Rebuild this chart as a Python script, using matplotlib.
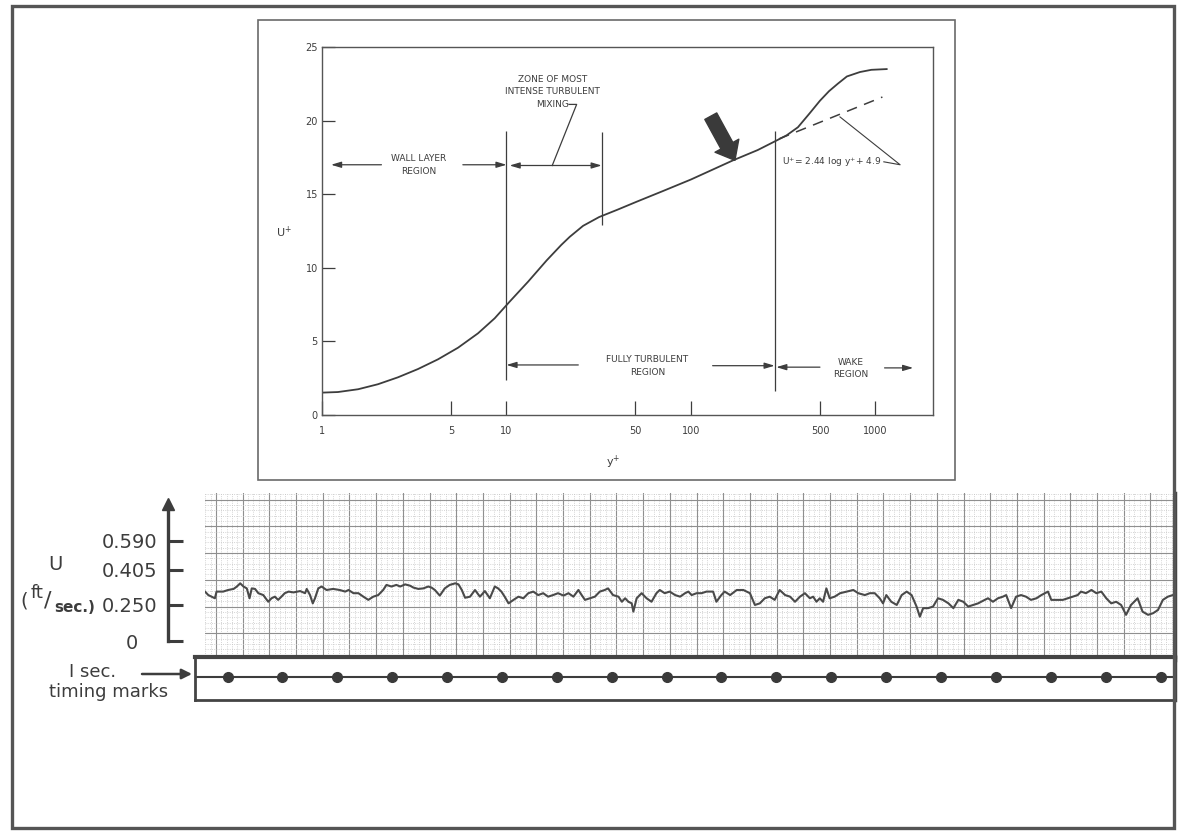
import numpy as np
import matplotlib
matplotlib.use('Agg')
import matplotlib.pyplot as plt
from matplotlib.patches import Rectangle, FancyArrowPatch
from matplotlib.ticker import NullLocator

# velocity profile (law of the wall)
yplus = [1, 1.22, 1.57, 2.01, 2.58, 3.31, 4.25, 5.46, 7.01, 8.63, 10.4, 13.1, 16.5,
         19.8, 22, 26, 31.8, 40, 51, 70, 100, 169, 230, 286, 330, 380, 440, 500,
         560, 624, 700, 824, 950, 1150]
uplus = [1.52, 1.56, 1.75, 2.09, 2.56, 3.12, 3.78, 4.57, 5.55, 6.57, 7.70, 9.06, 10.5,
         11.55, 12.1, 12.85, 13.45, 13.95, 14.5, 15.2, 16.0, 17.3, 18.0, 18.6, 19.0, 19.55,
         20.5, 21.35, 22.0, 22.5, 23.0, 23.3, 23.45, 23.5]
loglaw_y = [300, 1090]
loglaw_u = [18.76, 21.6]
boundary_y = [10, 32.8, 284]
boundary_lo = [2.4, 12.9, 1.6]
boundary_hi = [19.3, 19.2, 19.3]
x_ticks = [1, 5, 10, 50, 100, 500, 1000]
x_labels = ['1', '5', '10', '50', '100', '500', '1000']
y_ticks = [0, 5, 10, 15, 20, 25]

# strip chart trace: time in seconds, pen deflection in chart divisions
trace_t = [0, 0.06, 0.12, 0.18, 0.21, 0.33, 0.42, 0.52, 0.58, 0.64, 0.70, 0.76, 0.81, 0.85,
           0.91, 0.97, 1.06, 1.15, 1.21, 1.27, 1.33, 1.39, 1.45, 1.52, 1.61, 1.73, 1.82, 1.85,
           1.91, 1.96, 2.00, 2.06, 2.12, 2.21, 2.33, 2.45, 2.55, 2.61, 2.70, 2.79, 2.88, 2.97,
           3.06, 3.15, 3.24, 3.30, 3.39, 3.48, 3.55,
           3.64, 3.73, 3.79, 3.88, 3.97, 4.06, 4.12, 4.18, 4.27, 4.36, 4.45, 4.55, 4.61, 4.67,
           4.73, 4.82, 4.91, 5.00, 5.09, 5.18, 5.27, 5.33, 5.39, 5.45, 5.52, 5.61, 5.70, 5.79,
           5.88, 5.97, 6.06, 6.15, 6.24, 6.33, 6.42, 6.52, 6.61, 6.70, 6.79, 6.85, 6.91, 7.00,
           7.09,
           7.18, 7.27, 7.33, 7.42, 7.52, 7.58, 7.64, 7.70, 7.76, 7.79, 7.85, 7.94, 8.03, 8.12,
           8.21, 8.27, 8.36, 8.45, 8.55, 8.64, 8.73, 8.79, 8.85, 8.94, 9.03, 9.12, 9.24, 9.30,
           9.39, 9.45, 9.55, 9.67, 9.79, 9.91, 10.00, 10.09, 10.18, 10.27, 10.36, 10.45,
           10.55, 10.64,
           10.73, 10.82, 10.91, 11.00, 11.06, 11.12, 11.18, 11.24, 11.30, 11.36, 11.45, 11.55,
           11.67, 11.79, 11.88, 12.00, 12.09, 12.18, 12.27, 12.33, 12.39, 12.48, 12.58, 12.67,
           12.76, 12.85, 12.94, 13.00, 13.06, 13.15, 13.24, 13.33, 13.42, 13.52, 13.61, 13.70,
           13.79, 13.88, 13.97, 14.06, 14.18,
           14.24, 14.33, 14.42, 14.51, 14.57, 14.66, 14.75, 14.84, 14.93, 15.02, 15.12, 15.21,
           15.33, 15.39, 15.51, 15.60, 15.69, 15.78, 15.87, 15.93, 16.02, 16.12, 16.21, 16.30,
           16.39, 16.48, 16.57, 16.66, 16.75, 16.84, 16.96, 17.05, 17.15, 17.24, 17.33, 17.42,
           17.51, 17.60, 17.66]
trace_d = [2.56, 2.43, 2.37, 2.31, 2.56, 2.56, 2.62, 2.66, 2.75, 2.87, 2.75, 2.68, 2.31, 2.68,
           2.66, 2.50, 2.43, 2.18, 2.31, 2.37, 2.25, 2.37, 2.50, 2.56, 2.53, 2.58, 2.50, 2.66,
           2.43, 2.12, 2.31, 2.68, 2.75, 2.62, 2.66, 2.62, 2.56, 2.62, 2.50, 2.50, 2.37, 2.25,
           2.37, 2.43, 2.62, 2.81, 2.75, 2.81, 2.75,
           2.83, 2.78, 2.71, 2.66, 2.68, 2.75, 2.71, 2.62, 2.41, 2.68, 2.81, 2.87, 2.83, 2.62,
           2.33, 2.37, 2.62, 2.37, 2.58, 2.31, 2.75, 2.68, 2.56, 2.37, 2.12, 2.25, 2.37, 2.31,
           2.50, 2.56, 2.43, 2.50, 2.37, 2.43, 2.50, 2.41, 2.50, 2.37, 2.62, 2.43, 2.25, 2.31,
           2.37,
           2.56, 2.62, 2.68, 2.43, 2.37, 2.18, 2.31, 2.18, 2.12, 1.81, 2.31, 2.50, 2.31, 2.18,
           2.50, 2.62, 2.50, 2.56, 2.43, 2.37, 2.50, 2.56, 2.43, 2.50, 2.50, 2.56, 2.56, 2.18,
           2.43, 2.56, 2.43, 2.62, 2.62, 2.50, 2.06, 2.12, 2.31, 2.37, 2.25, 2.62,
           2.43, 2.37,
           2.18, 2.37, 2.50, 2.31, 2.37, 2.18, 2.31, 2.18, 2.68, 2.31, 2.37, 2.50,
           2.56, 2.62, 2.50, 2.43, 2.50, 2.50, 2.31, 2.12, 2.43, 2.18, 2.06, 2.43,
           2.56, 2.43, 2.00, 1.62, 1.94, 1.94, 2.00, 2.31, 2.25, 2.12, 1.94, 2.25,
           2.18, 2.00, 2.06, 2.12, 2.25,
           2.31, 2.18, 2.31, 2.37, 2.43, 1.94, 2.37, 2.43, 2.37, 2.25, 2.31, 2.43,
           2.56, 2.25, 2.25, 2.25, 2.31, 2.37, 2.43, 2.56, 2.50, 2.62, 2.50, 2.56,
           2.31, 2.12, 2.18, 2.06, 1.69, 2.06, 2.31, 1.81, 1.69, 1.75, 1.87, 2.25,
           2.37, 2.43, 2.37]
mark_t = [0.42, 1.40, 2.40, 3.40, 4.40, 5.40, 6.40, 7.40, 8.40, 9.38, 10.38, 11.38,
          12.38, 13.38, 14.38, 15.38, 16.38, 17.38]
u_tick_pos = [0.71, 2.06, 3.37, 4.46]
u_tick_labels = ['0   ', '0.250', '0.405', '0.590']

W, H = 1178, 833
INK = '#3d3d3d'
plt.rcParams['font.family'] = ['DejaVu Sans']


def rect(x0, y0, x1, y1):
    return [x0 / W, 1 - y1 / H, (x1 - x0) / W, (y1 - y0) / H]


def ptext(x, y, s, **kw):
    kw.setdefault('color', INK)
    kw.setdefault('ha', 'center')
    kw.setdefault('va', 'center')
    fig.text(x / W, 1 - y / H, s, **kw)


fig = plt.figure(figsize=(11.78, 8.33), dpi=100)

# outer frame and frame round the upper figure
fig.add_artist(Rectangle((12 / W, 1 - 828 / H), 1162 / W, 822 / H, transform=fig.transFigure,
                         fill=False, lw=2.4, ec='#555555'))
fig.add_artist(Rectangle((258 / W, 1 - 480 / H), 697 / W, 460 / H, transform=fig.transFigure,
                         fill=False, lw=1.2, ec='#6a6a6a'))

# ---- upper plot: U+ vs y+
ax = fig.add_axes(rect(322, 47, 933, 415))
ax.set_xscale('log')
ax.set_xlim(1, 2050)
ax.set_ylim(0, 25)
ax.plot(yplus, uplus, color=INK, lw=1.3)
ax.plot(loglaw_y, loglaw_u, color=INK, lw=1.1, dashes=(7, 5))
ax.vlines(boundary_y, boundary_lo, boundary_hi, color=INK, lw=0.9)
ax.set_xticks(x_ticks)
ax.set_xticklabels(x_labels)
ax.xaxis.set_minor_locator(NullLocator())
ax.set_yticks(y_ticks)
ax.tick_params(axis='x', direction='in', length=10, width=0.9, pad=8, labelsize=7, colors=INK)
ax.tick_params(axis='y', direction='in', length=9, width=0.9, pad=3, labelsize=7, colors=INK)
for s in ax.spines.values():
    s.set_color('#555555')
    s.set_linewidth(1.0)


def harrow(x_from, x_to, y, style='-|>'):
    ax.annotate('', xy=(x_to, y), xytext=(x_from, y),
                arrowprops=dict(arrowstyle=style + ',head_length=0.6,head_width=0.18',
                                color=INK, lw=0.9, shrinkA=0, shrinkB=0))


tkw = dict(fontsize=6.5, color=INK, ha='center', va='center')
ax.text(3.34, 17.4, 'WALL LAYER', **tkw)
ax.text(3.34, 16.55, 'REGION', **tkw)
harrow(2.1, 1.12, 17.0)
harrow(5.8, 10, 17.0)
harrow(10.4, 32.8, 16.95, '<|-|>')
ax.text(17.7, 22.8, 'ZONE OF MOST', **tkw)
ax.text(17.7, 21.95, 'INTENSE TURBULENT', **tkw)
ax.text(17.7, 21.1, 'MIXING', **tkw)
ax.plot([21.8, 24.0, 17.7], [21.1, 21.1, 16.95], color=INK, lw=0.9)

ax.text(58, 3.8, 'FULLY TURBULENT', **tkw)
ax.text(58, 2.9, 'REGION', **tkw)
harrow(24.5, 10, 3.4)
harrow(131, 284, 3.35)
ax.text(736, 3.6, 'WAKE', **tkw)
ax.text(736, 2.75, 'REGION', **tkw)
harrow(500, 290, 3.25)
harrow(1120, 1600, 3.2)

ax.text(311, 17.2, 'U$^{+}$= 2.44 log y$^{+}$+ 4.9', fontsize=6.5, color=INK, ha='left', va='center')
ax.plot([1110, 1360, 642], [17.2, 17.0, 20.25], color=INK, lw=0.8)

ax.annotate('', xy=(173, 17.3), xytext=(128, 20.3),
            arrowprops=dict(arrowstyle='simple,head_length=0.8,head_width=1.3,tail_width=0.65',
                            fc='#3a3a3a', ec='#3a3a3a', mutation_scale=15, shrinkA=0, shrinkB=0))

ptext(284, 232, 'U$^{+}$', fontsize=8)
ptext(613, 462, 'y$^{+}$', fontsize=8)

# ---- lower part: strip chart paper
gax = fig.add_axes(rect(205, 493, 1175, 660))
gax.set_xlim(0, 36.33)
gax.set_ylim(0, 6.25)
gax.set_xticks(np.arange(0.41, 36.3, 1.0))
gax.set_xticks(np.arange(0.01, 36.3, 0.2), minor=True)
gax.set_yticks(np.arange(1, 6.3, 1.0))
gax.set_yticks(np.arange(0.2, 6.25, 0.2), minor=True)
gax.grid(which='major', color='#8f8f8f', lw=0.8)
gax.grid(which='minor', color='#c6c6c6', lw=0.6, ls=':')
gax.tick_params(which='both', length=0, labelbottom=False, labelleft=False)
for k in ['left', 'top', 'bottom']:
    gax.spines[k].set_visible(False)
gax.spines['right'].set_linewidth(2.5)
gax.spines['right'].set_color('#444444')

tax = fig.add_axes(rect(205, 493, 1175, 660))
tax.patch.set_alpha(0)
tax.set_xlim(0, 17.64)
tax.set_ylim(0, 6.25)
tax.plot(trace_t, trace_d, color='#4a4a4a', lw=1.5)
tax.axis('off')

# U axis with arrow
uax = fig.add_axes(rect(168, 493, 190, 660))
uax.patch.set_alpha(0)
uax.set_ylim(0, 6.25)
for k in ['top', 'right', 'bottom']:
    uax.spines[k].set_visible(False)
uax.spines['left'].set_bounds(0.71, 5.8)
uax.spines['left'].set_linewidth(2.4)
uax.spines['left'].set_color(INK)
uax.set_xticks([])
uax.set_yticks(u_tick_pos)
uax.set_yticklabels(u_tick_labels)
uax.tick_params(axis='y', direction='in', length=11, width=2.2, pad=8, labelsize=14,
                colors=INK)
uax.plot([0], [5.85], marker='^', ms=9, color=INK, transform=uax.get_yaxis_transform(),
         clip_on=False)

ptext(55, 565, 'U', fontsize=14)
ptext(24, 601, '(', fontsize=14)
ptext(37, 593, 'ft', fontsize=13)
ptext(48, 601, '/', fontsize=16)
ptext(75, 607, 'sec.)', fontsize=11, weight='bold')

# timing marks strip
max_ = fig.add_axes(rect(195, 657, 1175, 700))
max_.set_xlim(-0.18, 17.64)
max_.set_ylim(0, 1)
max_.axhline(0.53, color=INK, lw=1.5)
max_.plot(mark_t, [0.53] * len(mark_t), 'o', ms=7, color='#3a3a3a')
max_.set_xticks([])
max_.set_yticks([])
for k, lw in [('top', 3.0), ('bottom', 2.0), ('left', 2.0), ('right', 2.5)]:
    max_.spines[k].set_linewidth(lw)
    max_.spines[k].set_color('#444444')

ptext(93, 672, 'I sec.', fontsize=13)
ptext(109, 692, 'timing marks', fontsize=13)
fig.add_artist(FancyArrowPatch((142 / W, 1 - 674 / H), (192 / W, 1 - 674 / H),
                               transform=fig.transFigure, arrowstyle='-|>,head_length=6,head_width=3',
                               color=INK, lw=1.8, shrinkA=0, shrinkB=0))

fig.savefig('out.png', dpi=100, facecolor='white')
